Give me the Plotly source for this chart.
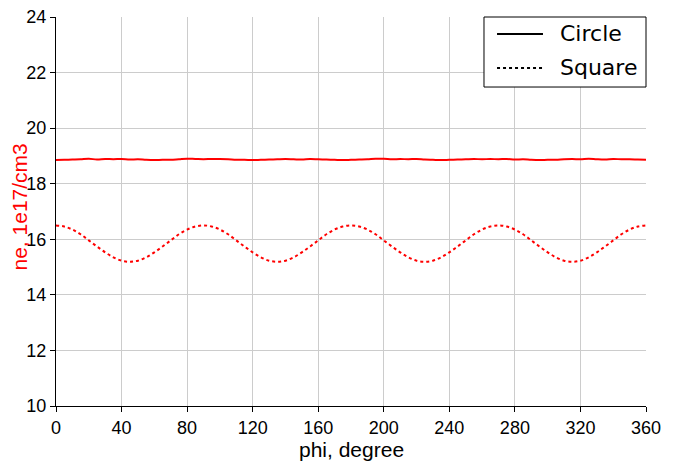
import plotly.graph_objects as go

phi = list(range(0, 365, 5))

circle = [18.85, 18.86, 18.87, 18.88, 18.90, 18.87, 18.89, 18.88, 18.89, 18.87,
          18.88, 18.86, 18.85, 18.86, 18.86, 18.88, 18.90, 18.89, 18.88, 18.89,
          18.89, 18.88, 18.86, 18.86, 18.85, 18.86, 18.87, 18.88, 18.89, 18.88,
          18.87, 18.89, 18.88, 18.87, 18.86, 18.85, 18.86, 18.87, 18.88, 18.90,
          18.90, 18.88, 18.89, 18.88, 18.89, 18.87, 18.86, 18.85, 18.86, 18.87,
          18.88, 18.89, 18.88, 18.89, 18.88, 18.89, 18.87, 18.88, 18.86, 18.85,
          18.86, 18.86, 18.88, 18.89, 18.88, 18.90, 18.88, 18.87, 18.89, 18.88,
          18.88, 18.87, 18.86]

square = [16.50, 16.46, 16.35, 16.18, 15.96, 15.74, 15.53, 15.35, 15.23, 15.19,
          15.23, 15.35, 15.53, 15.74, 15.96, 16.18, 16.35, 16.46, 16.50, 16.46,
          16.35, 16.18, 15.96, 15.74, 15.53, 15.35, 15.23, 15.19, 15.23, 15.35,
          15.53, 15.74, 15.96, 16.18, 16.35, 16.46, 16.50, 16.46, 16.35, 16.18,
          15.96, 15.74, 15.53, 15.35, 15.23, 15.19, 15.23, 15.35, 15.53, 15.74,
          15.96, 16.18, 16.35, 16.46, 16.50, 16.46, 16.35, 16.18, 15.96, 15.74,
          15.53, 15.35, 15.23, 15.19, 15.23, 15.35, 15.53, 15.74, 15.96, 16.18,
          16.35, 16.46, 16.50]

series_names = ["Circle", "Square"]
x_ticks = list(range(0, 361, 40))
y_ticks = list(range(10, 25, 2))

tick_font = dict(family="Liberation Sans, Arial, sans-serif", size=18, color="black")
title_font = dict(family="Liberation Sans, Arial, sans-serif", size=21, color="black")
DOT = "3px,3px"

fig = go.Figure()
fig.add_trace(go.Scatter(x=phi, y=circle, mode="lines", name=series_names[0],
                         line=dict(color="red", width=2, shape="spline"), showlegend=False))
fig.add_trace(go.Scatter(x=phi, y=square, mode="lines", name=series_names[1],
                         line=dict(color="red", width=2, dash=DOT, shape="spline"), showlegend=False))

# manual legend box (paper coords)
fig.add_shape(type="rect", xref="paper", yref="paper", x0=0.7254, x1=1.0, y0=0.820, y1=1.0,
              line=dict(color="black", width=1), fillcolor="white", layer="above")
fig.add_shape(type="line", xref="paper", yref="paper", x0=0.7475, x1=0.8254, y0=0.9563, y1=0.9563,
              line=dict(color="black", width=2), layer="above")
fig.add_shape(type="line", xref="paper", yref="paper", x0=0.7475, x1=0.8254, y0=0.8689, y1=0.8689,
              line=dict(color="black", width=2, dash=DOT), layer="above")
for yy, nm in zip([0.9563, 0.8689], series_names):
    fig.add_annotation(xref="paper", yref="paper", x=0.8508, y=yy, text=nm, showarrow=False,
                       xanchor="left", yanchor="middle",
                       font=dict(family="DejaVu Sans", size=22, color="black"))

# axis titles
fig.add_annotation(xref="paper", yref="paper", x=0.5, y=0, yshift=-43, text="phi, degree",
                   showarrow=False, xanchor="center", yanchor="middle", font=title_font)
fig.add_annotation(xref="paper", yref="paper", x=0, xshift=-37, y=0.5, yshift=4, text="ne, 1e17/cm3",
                   textangle=-90, showarrow=False, xanchor="center", yanchor="middle",
                   font=dict(family="Liberation Sans, Arial, sans-serif", size=21, color="red"))

# page body adds an 8px offset, so the figure is 8px smaller than the window
fig.update_layout(
    width=670, height=454,
    margin=dict(l=48, r=32, t=9, b=56),
    paper_bgcolor="white", plot_bgcolor="white",
    showlegend=False,
)
fig.update_xaxes(range=[0, 360], tickvals=x_ticks, ticks="outside", ticklen=5,
                 tickcolor="black", showline=True, linecolor="black", linewidth=1,
                 showgrid=True, gridcolor="#cccccc", gridwidth=1, zeroline=False,
                 tickfont=tick_font, automargin=False, ticklabeloverflow="allow")
fig.update_yaxes(range=[10, 24], tickvals=y_ticks, ticks="outside", ticklen=5,
                 tickcolor="black", showline=True, linecolor="black", linewidth=1,
                 showgrid=True, gridcolor="#cccccc", gridwidth=1, zeroline=False,
                 tickfont=tick_font, automargin=False, ticklabelstandoff=0,
                 ticklabeloverflow="allow")

fig.write_html("out.html")
